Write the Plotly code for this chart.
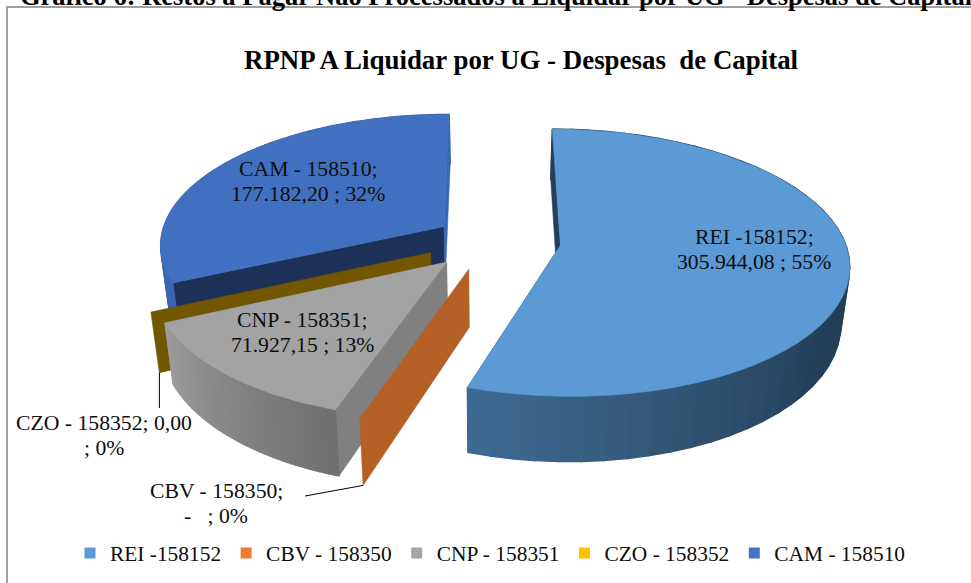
import math
import plotly.graph_objects as go

# ---- data ----
categories = ["REI -158152", "CBV - 158350", "CNP - 158351", "CZO - 158352", "CAM - 158510"]
values = [305944.08, 0.0, 71927.15, 0.0, 177182.20]
label_lines = [
    ["REI -158152;", "305.944,08 ; 55%"],
    ["CBV - 158350;", "-   ; 0%"],
    ["CNP - 158351;", "71.927,15 ; 13%"],
    ["CZO - 158352; 0,00", "; 0%"],
    ["CAM - 158510;", "177.182,20 ; 32%"],
]
chart_title = "RPNP A Liquidar por UG - Despesas  de Capital"
page_caption = "Gráfico 6: Restos a Pagar Não Processados a Liquidar por UG - Despesas de Capital"

# ---- style ----
legend_colors = ["#5B9BD5", "#ED7D31", "#A5A5A5", "#FFC000", "#4472C4"]
top_colors = ["#5B9AD5", "#B46026", "#A3A3A3", "#735600", "#4270C0"]
wall_start = ["#234058", "#B46026", "#808080", "#735600", "#1E3158"]
wall_end = ["#234058", "#B46026", "#808080", "#735600", "#3A66B2"]
rim_light = ["#3F6C95", None, "#9C9C9C", None, "#3A66B2"]
rim_dark = ["#243F58", None, "#707070", None, "#3A66B2"]
rim_ramp = [(198, 122), None, (245, 199), None, (245, 360)]  # angle of light, angle of dark end
explode = [0.25, 0.23, 0.225, 0.228, 0.195]
draw_order = [4, 3, 2, 1, 0]
label_pos = [(754, 249), (216, 503), (302, 332), (104, 435), (308, 181)]

CX, CY, R, R2, K, DEPTH, SHRINK = 490, 240, 284, 130, 0.13, 56.5, 0.975
SERIF = "Liberation Serif"


def proj(u, v, low=False):
    f = 1 / (1 + K * v)
    sx = CX + R * u * f
    sy = CY - R2 * v * f
    if low:
        sx = CX + (sx - CX) * SHRINK
        sy = sy + DEPTH * f
    return sx, sy


def hex_mix(a, b, t):
    t = max(0, min(1, t))
    ca = [int(a[i:i + 2], 16) for i in (1, 3, 5)]
    cb = [int(b[i:i + 2], 16) for i in (1, 3, 5)]
    return "rgb(%d,%d,%d)" % tuple(round(x + (y - x) * t) for x, y in zip(ca, cb))


def poly(fig, pts, color, lw=0.6):
    fig.add_trace(go.Scatter(
        x=[p[0] for p in pts] + [pts[0][0]], y=[p[1] for p in pts] + [pts[0][1]],
        mode="lines", fill="toself", fillcolor=color, line=dict(color=color, width=lw),
        hoverinfo="skip", showlegend=False))


fig = go.Figure()
total = sum(values)
starts, ends, acc = [], [], 0.0
for val in values:
    starts.append(acc / total * 360)
    acc += val
    ends.append(acc / total * 360)


def pt(i, ang, on_rim=True, low=False):
    mid = math.radians((starts[i] + ends[i]) / 2)
    u0, v0 = explode[i] * math.sin(mid), explode[i] * math.cos(mid)
    if not on_rim:
        return proj(u0, v0, low)
    a = math.radians(ang)
    return proj(u0 + math.sin(a), v0 + math.cos(a), low)


def wall(i, ang, color):
    poly(fig, [pt(i, ang, False), pt(i, ang), pt(i, ang, True, True), pt(i, ang, False, True)], color)


for i in draw_order:
    a0, a1 = starts[i], ends[i]
    if values[i] == 0:
        wall(i, a0, top_colors[i])
        continue
    wall(i, a0, wall_start[i])
    wall(i, a1, wall_end[i])
    n = 48
    angs = [a0 + (a1 - a0) * j / n for j in range(n + 1)]
    light_a, dark_a = rim_ramp[i]
    for j in range(n):
        t = (angs[j] - light_a) / (dark_a - light_a)
        poly(fig, [pt(i, angs[j]), pt(i, angs[j + 1]), pt(i, angs[j + 1], True, True), pt(i, angs[j], True, True)],
             hex_mix(rim_light[i], rim_dark[i], t), lw=1.4)
    poly(fig, [pt(i, a0, False)] + [pt(i, a) for a in angs], top_colors[i])

# leader lines for the two empty slices
for i, end_y, end_x in ((3, 408, None), (1, 496, 305)):
    p = pt(i, starts[i], True, True)
    fig.add_trace(go.Scatter(x=[p[0], p[0] if end_x is None else end_x], y=[p[1], end_y], mode="lines",
                             line=dict(color="#000000", width=1), hoverinfo="skip", showlegend=False))

# legend
for name, color in zip(categories, legend_colors):
    fig.add_trace(go.Scatter(x=[None], y=[None], mode="markers", name=name,
                             marker=dict(symbol="square", size=11, color=color)))

# data labels
for (lx, ly), lines in zip(label_pos, label_lines):
    for k, line in enumerate(lines):
        fig.add_annotation(x=lx, y=ly + (k - (len(lines) - 1) / 2) * 25, text=line, showarrow=False,
                           xref="x", yref="y", xanchor="center", yanchor="middle",
                           font=dict(family=SERIF, size=21.7, color="#0d0d0d"))

fig.add_annotation(x=521, y=60, text="<b>%s</b>" % chart_title, showarrow=False, xref="x", yref="y",
                   font=dict(family=SERIF, size=26.9, color="#000000"))
fig.add_annotation(x=18 / 971, y=1 + 4 / 583, text="<b>%s</b>" % page_caption, showarrow=False,
                   xref="paper", yref="paper", xanchor="left", yanchor="middle",
                   font=dict(family=SERIF, size=26.5, color="#000000"))

fig.add_shape(type="rect", x0=7, y0=7, x1=990, y1=600, xref="x", yref="y",
              line=dict(color="#A0A0A0", width=2), fillcolor="rgba(0,0,0,0)", layer="below")

fig.update_layout(
    width=971, height=583, margin=dict(l=0, r=0, t=0, b=0),
    paper_bgcolor="#FFFFFF", plot_bgcolor="#FFFFFF",
    xaxis=dict(range=[0, 971], visible=False, fixedrange=True),
    yaxis=dict(range=[583, 0], visible=False, fixedrange=True),
    legend=dict(orientation="h", x=70 / 971, xanchor="left", y=1 - 553 / 583, yanchor="middle",
                font=dict(family=SERIF, size=21.4, color="#0d0d0d"), bgcolor="rgba(0,0,0,0)",
                itemclick=False, itemdoubleclick=False),
    showlegend=True,
)
fig.write_html("out.html", config=dict(displayModeBar=False), post_script="document.body.style.margin='0';")
